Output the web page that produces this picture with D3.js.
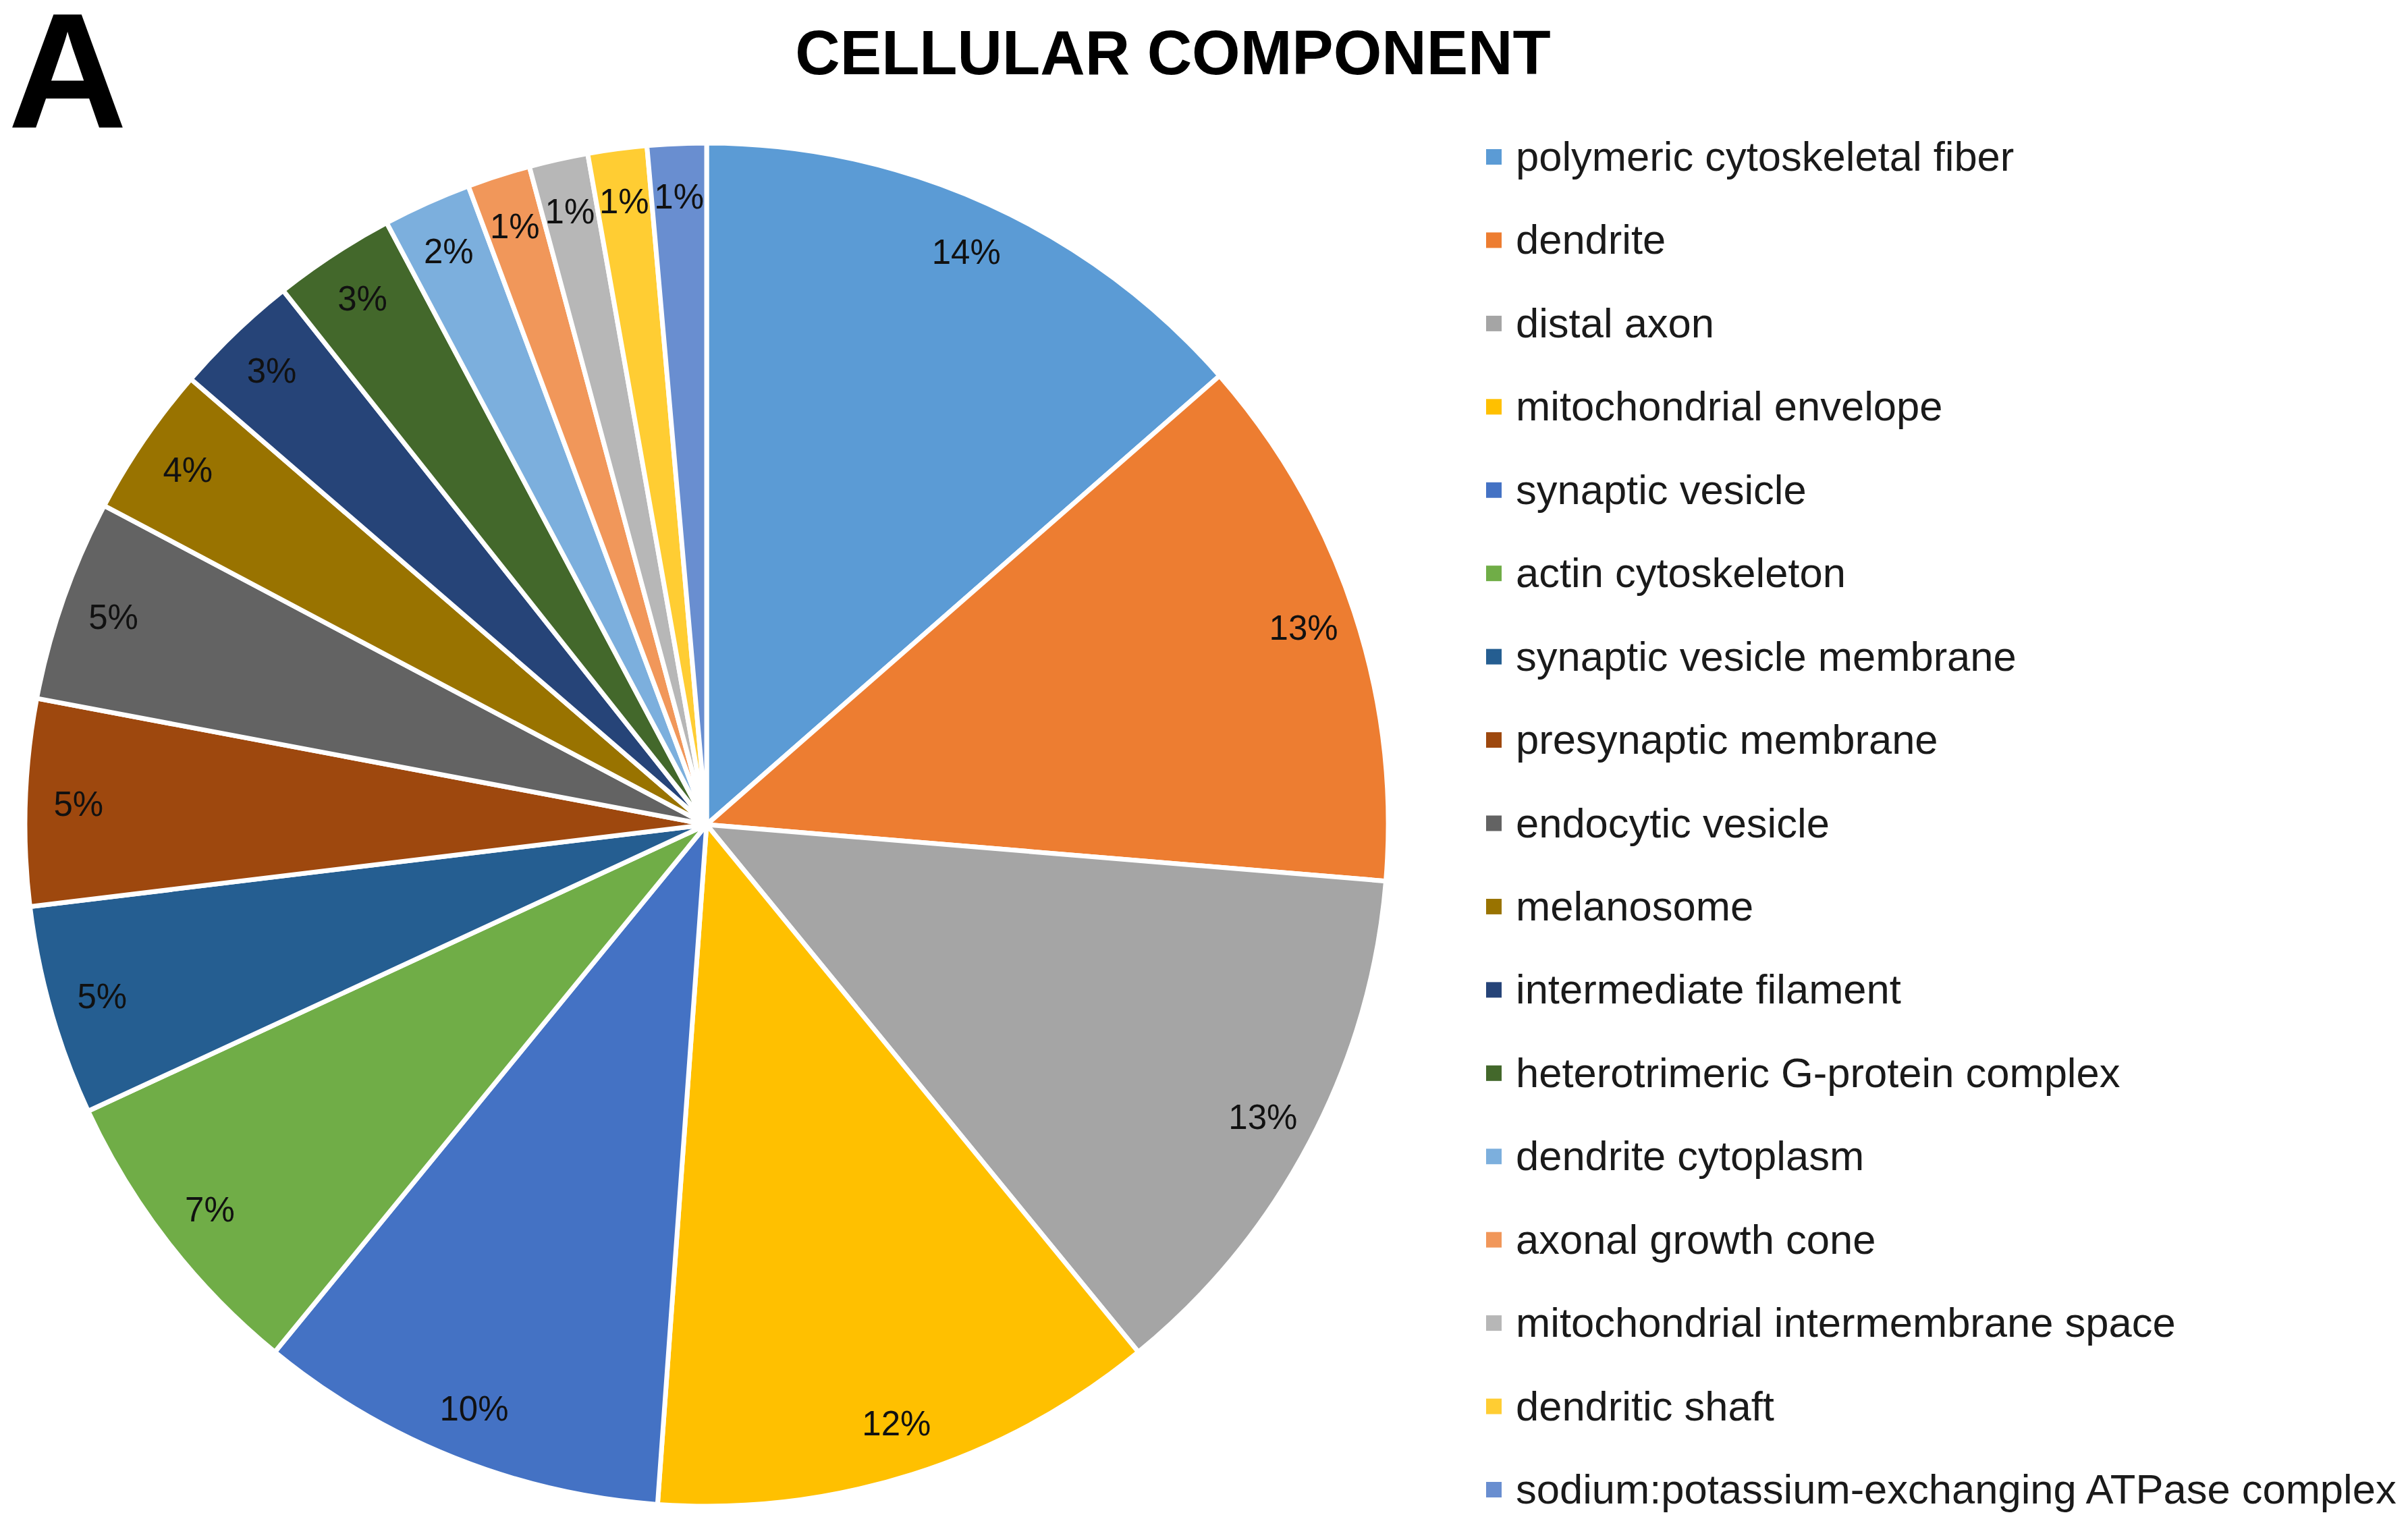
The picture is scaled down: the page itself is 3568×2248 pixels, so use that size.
<!DOCTYPE html>
<html>
<head>
<meta charset="utf-8">
<script src="https://cdn.jsdelivr.net/npm/d3@7"></script>
<style>
  html, body { margin: 0; padding: 0; background: #fff; }
  svg { display: block; }
</style>
</head>
<body>
<svg id="chart" width="3568" height="2248"></svg>
<script>
// categories, shares (%) and colours, in legend / clockwise order
const categories = [
  'polymeric cytoskeletal fiber', 'dendrite', 'distal axon', 'mitochondrial envelope',
  'synaptic vesicle', 'actin cytoskeleton', 'synaptic vesicle membrane', 'presynaptic membrane',
  'endocytic vesicle', 'melanosome', 'intermediate filament', 'heterotrimeric G-protein complex',
  'dendrite cytoplasm', 'axonal growth cone', 'mitochondrial intermembrane space',
  'dendritic shaft', 'sodium:potassium-exchanging ATPase complex'
];
const shares = [13.6, 12.8, 12.8, 12.1, 9.8, 7.2, 5.0, 4.9, 4.8, 3.6, 3.0, 2.9, 2.1, 1.5, 1.4, 1.4, 1.4];
const colors = [
  '#5B9BD5', '#ED7D31', '#A5A5A5', '#FFC000', '#4472C4', '#70AD47', '#255E91', '#9E480E',
  '#636363', '#997300', '#264478', '#43682B', '#7CAFDD', '#F1975A', '#B7B7B7', '#FFCD33', '#698ED0'
];

const cx = 1047, cy = 1222, R = 1010;
const svg = d3.select('#chart');
const FONT = 'Liberation Sans, Arial, Helvetica, sans-serif';

const data = categories.map((name, i) => ({ name, value: shares[i], color: colors[i] }));
const total = d3.sum(shares);

// ── Panel letter + title ───────────────────────────────
svg.append('text')
  .attr('x', 12).attr('y', 189)
  .attr('font-family', FONT).attr('font-weight', 'bold')
  .attr('font-size', 244)
  .text('A');

svg.append('text')
  .attr('x', 1738).attr('y', 110)
  .attr('text-anchor', 'middle')
  .attr('font-family', FONT).attr('font-weight', 'bold')
  .attr('font-size', 92)
  .text('CELLULAR COMPONENT');

// ── Pie ────────────────────────────────────────────────
const pie = d3.pie().value(d => d.value).sort(null);
const arc = d3.arc().innerRadius(0).outerRadius(R);
const labelArc = d3.arc().innerRadius(R * 0.922).outerRadius(R * 0.922);

const g = svg.append('g').attr('transform', `translate(${cx},${cy})`);
const arcs = pie(data);

g.selectAll('path').data(arcs).join('path')
  .attr('d', arc)
  .attr('fill', d => d.data.color)
  .attr('stroke', '#fff')
  .attr('stroke-width', 7)
  .attr('stroke-linejoin', 'round');

g.selectAll('text').data(arcs).join('text')
  .attr('transform', d => `translate(${labelArc.centroid(d)})`)
  .attr('text-anchor', 'middle')
  .attr('dominant-baseline', 'central')
  .attr('font-family', FONT)
  .attr('font-size', 51)
  .attr('fill', '#111')
  .text(d => Math.round(d.data.value / total * 100) + '%');

// ── Legend ─────────────────────────────────────────────
const rowY = d3.scalePoint().domain(categories).range([232, 2207]);

const leg = svg.append('g').selectAll('g').data(data).join('g')
  .attr('transform', d => `translate(2202,${rowY(d.name)})`);

leg.append('rect')
  .attr('x', 0).attr('y', -11)
  .attr('width', 23).attr('height', 23)
  .attr('fill', d => d.color);

leg.append('text')
  .attr('x', 44).attr('y', 21)
  .attr('font-family', FONT)
  .attr('font-size', 61.5)
  .attr('fill', '#1a1a1a')
  .text(d => d.name);
</script>
</body>
</html>
